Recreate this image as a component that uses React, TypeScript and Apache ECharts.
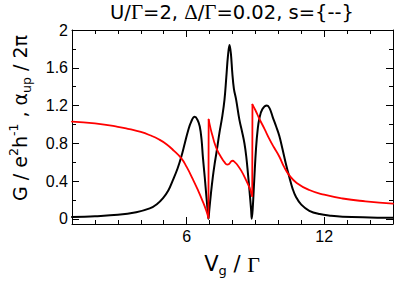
import React, { useEffect, useRef } from "react";
import * as echarts from "echarts";

// Conductance G (black)
const gX = [1.0, 2.0, 3.0, 3.8, 4.39, 4.7, 4.97, 5.2, 5.4, 5.6, 5.77, 5.92, 6.06, 6.2, 6.35, 6.47, 6.57, 6.65, 6.71, 6.79, 6.86, 6.92, 6.95, 6.99, 7.06, 7.14, 7.22, 7.3, 7.43, 7.55, 7.65, 7.73, 7.8, 7.87, 7.93, 7.99, 8.06, 8.16, 8.3, 8.42, 8.52, 8.6, 8.67, 8.74, 8.81, 8.84, 8.88, 8.95, 9.03, 9.1, 9.17, 9.3, 9.5, 9.62, 9.75, 9.9, 10.04, 10.18, 10.33, 10.48, 10.62, 10.77, 11.0, 11.35, 11.8, 12.3, 12.8, 14.0, 15.0];
const gY = [0.02, 0.028, 0.042, 0.07, 0.11, 0.155, 0.22, 0.3, 0.41, 0.53, 0.66, 0.8, 0.93, 1.03, 1.08, 1.05, 0.98, 0.84, 0.65, 0.44, 0.24, 0.08, 0.0, 0.1, 0.27, 0.44, 0.58, 0.7, 0.91, 1.08, 1.26, 1.5, 1.72, 1.84, 1.75, 1.55, 1.38, 1.26, 1.05, 0.92, 0.8, 0.66, 0.49, 0.3, 0.1, 0.0, 0.1, 0.42, 0.76, 0.95, 1.06, 1.16, 1.2, 1.17, 1.08, 0.98, 0.88, 0.74, 0.58, 0.44, 0.32, 0.23, 0.15, 0.085, 0.05, 0.032, 0.022, 0.014, 0.01];

// alpha_up / 2pi (red), three branches
const a1X = [1.0, 2.0, 3.0, 3.5, 4.0, 4.4, 4.8, 5.12, 5.45, 5.77, 6.0, 6.27, 6.5, 6.71, 6.85, 6.95];
const a1Y = [1.03, 1.01, 0.975, 0.95, 0.92, 0.885, 0.84, 0.79, 0.72, 0.64, 0.55, 0.42, 0.3, 0.18, 0.09, 0.01];
const a2X = [6.96, 7.05, 7.14, 7.22, 7.35, 7.51, 7.65, 7.77, 7.85, 7.93, 8.01, 8.1, 8.2, 8.38, 8.55, 8.74, 8.86];
const a2Y = [1.05, 0.95, 0.87, 0.8, 0.72, 0.65, 0.6, 0.575, 0.58, 0.605, 0.615, 0.6, 0.575, 0.51, 0.43, 0.33, 0.24];
const a3X = [8.87, 9.0, 9.17, 9.4, 9.6, 9.8, 10.04, 10.25, 10.48, 10.8, 11.35, 12.0, 12.8, 13.8, 15.0];
const a3Y = [1.21, 1.15, 1.06, 0.95, 0.85, 0.76, 0.66, 0.55, 0.46, 0.38, 0.305, 0.255, 0.215, 0.185, 0.16];

const xMajor = [6, 12];
const xMinor = [1, 2, 3, 4, 5, 6, 7, 8, 9, 10, 11, 12, 13, 14, 15];
const yMajor = [0, 0.4, 0.8, 1.2, 1.6, 2];
const yMinor = [0, 0.2, 0.4, 0.6, 0.8, 1.0, 1.2, 1.4, 1.6, 1.8, 2.0];

const FONT = "'Liberation Sans', Arial, Helvetica, sans-serif";
const WIDE = "'DejaVu Sans', sans-serif";
const SERIF = "'Liberation Serif', 'DejaVu Serif', serif";

export default function App() {
  const ref = useRef<HTMLDivElement>(null);
  useEffect(() => {
    if (!ref.current) return;
    const chart = echarts.init(ref.current, undefined, { renderer: "svg" });
    const axisBase = (
      pos: string,
      vals: number[],
      len: number,
      labels: boolean,
      min: number,
      max: number,
      line: boolean
    ) => ({
      type: "value",
      position: pos,
      min,
      max,
      axisLine: { show: line, onZero: false, lineStyle: { color: "#000", width: 1 } },
      axisTick: {
        show: true,
        inside: true,
        length: len,
        customValues: vals,
        lineStyle: { color: "#000", width: 1 },
      },
      axisLabel: labels
        ? {
            show: true,
            customValues: vals,
            color: "#000",
            fontSize: 16,
            fontFamily: FONT,
            margin: 4,
            formatter: (v: number) => String(Math.round(v * 10) / 10),
          }
        : { show: false },
      splitLine: { show: false },
    });
    const yMin = -0.055;
    const xs = [
      axisBase("bottom", xMajor, 7, true, 1, 15, true),
      axisBase("bottom", xMinor, 4, false, 1, 15, false),
      axisBase("top", xMajor, 7, false, 1, 15, true),
      axisBase("top", xMinor, 4, false, 1, 15, false),
    ];
    const ys = [
      axisBase("left", yMajor, 7, true, yMin, 2, true),
      axisBase("left", yMinor, 4, false, yMin, 2, false),
      axisBase("right", yMajor, 7, false, yMin, 2, true),
      axisBase("right", yMinor, 4, false, yMin, 2, false),
    ];
    const t = { fontSize: 19.5, fontFamily: WIDE, fill: "#000" };
    const ts = { fontSize: 21, fontFamily: SERIF, fill: "#000" };
    const zip = (xa: number[], ya: number[]) => xa.map((x, i) => [x, ya[i]]);
    const line = (data: number[][], color: string, width: number, smooth: number, z: number) => ({
      type: "line",
      xAxisIndex: 0,
      yAxisIndex: 0,
      data,
      showSymbol: false,
      smooth,
      lineStyle: { color, width, cap: "round", join: "round" },
      z,
    });
    const n1 = a1X.length - 1;
    const n2 = a2X.length - 1;
    chart.setOption({
      animation: false,
      grid: { left: 72, right: 2, top: 30, bottom: 60, containLabel: false },
      xAxis: xs,
      yAxis: ys,
      graphic: [
        {
          type: "text",
          x: 232,
          y: 12,
          style: {
            text: "{t|U/}{s|Γ}{t|=2, }{s|Δ}{t|/}{s|Γ}{t|=0.02, s={--}}",
            fontSize: 19.5,
            fontFamily: WIDE,
            fill: "#000",
            align: "center",
            verticalAlign: "middle",
            rich: { t, s: ts },
          },
        },
        {
          type: "text",
          x: 232,
          y: 264,
          style: {
            text: "{m|V}{sub|g}{m| / }{s|Γ}",
            align: "center",
            verticalAlign: "middle",
            rich: {
              m: { fontSize: 21, fontFamily: WIDE, fill: "#000", lineHeight: 26 },
              s: { fontSize: 22, fontFamily: SERIF, fill: "#000", lineHeight: 26 },
              sub: { fontSize: 13, fontFamily: WIDE, fill: "#000", lineHeight: 13, verticalAlign: "bottom" },
            },
          },
        },
        {
          type: "text",
          x: 20,
          y: 118,
          rotation: Math.PI / 2,
          style: {
            text: "{m|G / e}{sup|2}{m|h}{sup|-1}{m| , α}{sub|up}{m| / 2π}",
            align: "center",
            verticalAlign: "middle",
            rich: {
              m: { fontSize: 19, fontFamily: WIDE, fill: "#000", lineHeight: 26 },
              sup: { fontSize: 12.5, fontFamily: WIDE, fill: "#000", lineHeight: 12, verticalAlign: "top" },
              sub: { fontSize: 12.5, fontFamily: WIDE, fill: "#000", lineHeight: 12, verticalAlign: "bottom" },
            },
          },
        },
      ],
      series: [
        line(zip(gX, gY), "#000", 2, 0.4, 3),
        line(zip(a1X, a1Y), "#ff0000", 1.8, 0.5, 4),
        line([[a1X[n1], a1Y[n1]], [a2X[0], a2Y[0]]], "#ff0000", 1.8, 0, 4),
        line(zip(a2X, a2Y), "#ff0000", 1.8, 0.5, 4),
        line([[a2X[n2], a2Y[n2]], [a3X[0], a3Y[0]]], "#ff0000", 1.8, 0, 4),
        line(zip(a3X, a3Y), "#ff0000", 1.8, 0.5, 4),
      ],
    });
    return () => chart.dispose();
  }, []);
  return (
    <div
      ref={ref}
      style={{ position: "fixed", left: 0, top: 0, width: 395, height: 284, background: "#fff" }}
    />
  );
}
